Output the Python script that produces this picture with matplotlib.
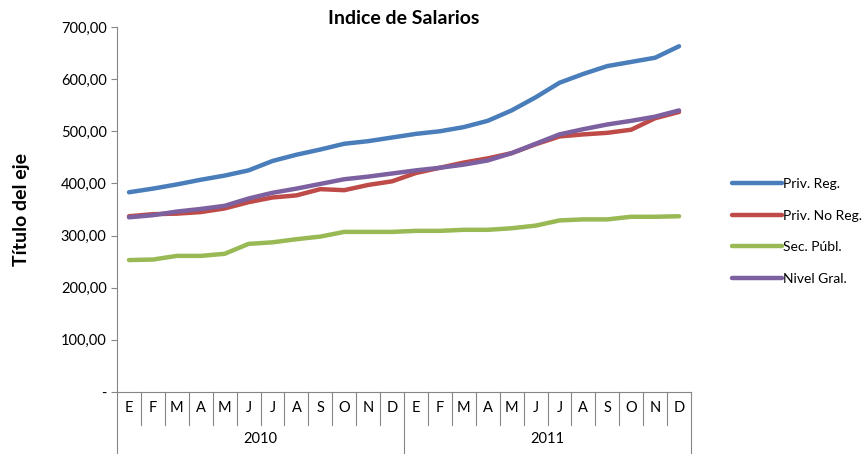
import matplotlib
matplotlib.use('Agg')
import matplotlib.pyplot as plt
from matplotlib.ticker import FuncFormatter, MultipleLocator
from matplotlib.transforms import blended_transform_factory
import numpy as np

plt.rcParams['font.family'] = ['Lato', 'DejaVu Sans']

# ── Data ──────────────────────────────────────────────────────────────────────
months = ['E', 'F', 'M', 'A', 'M', 'J', 'J', 'A', 'S', 'O', 'N', 'D']
years  = ['2010', '2011']

priv_reg    = [383, 390, 398, 407, 415, 425, 443, 455, 465, 476, 481, 488,
               495, 500, 508, 520, 540, 565, 593, 610, 625, 633, 641, 663]
priv_no_reg = [337, 341, 342, 345, 352, 364, 373, 377, 389, 387, 397, 404,
               420, 430, 440, 448, 458, 475, 490, 494, 497, 503, 525, 537]
sec_publ    = [253, 254, 261, 261, 265, 284, 287, 293, 298, 307, 307, 307,
               309, 309, 311, 311, 314, 319, 329, 331, 331, 336, 336, 337]
nivel_gral  = [335, 339, 346, 351, 357, 371, 382, 390, 399, 408, 413, 419,
               425, 430, 436, 444, 458, 476, 494, 504, 513, 520, 528, 540]

series = [('Priv. Reg.', priv_reg, '#4A7EBB'),
          ('Priv. No Reg.', priv_no_reg, '#BE4B48'),
          ('Sec. Públ.', sec_publ, '#98B954'),
          ('Nivel Gral.', nivel_gral, '#7D60A0')]

# ── Plot ──────────────────────────────────────────────────────────────────────
fig = plt.figure(figsize=(8.67, 4.54), dpi=100)
ax = fig.add_axes([0.135, 0.1366, 0.662, 0.804])

n = len(months) * len(years)
x = np.arange(n)
for label, vals, color in series:
    ax.plot(x, vals, color=color, lw=3.2, label=label, solid_capstyle='round')

ax.set_xlim(-0.5, n - 0.5)
ax.set_ylim(0, 700)
ax.yaxis.set_major_locator(MultipleLocator(100))
ax.yaxis.set_major_formatter(FuncFormatter(
    lambda v, _: '-' if v == 0 else f'{v:,.2f}'.replace(',', 'X').replace('.', ',').replace('X', '.')))
ax.tick_params(axis='y', labelsize=10.5, length=4, color='#868686', direction='out')
ax.set_xticks([])
for s in ['top', 'right']:
    ax.spines[s].set_visible(False)
for s in ['left', 'bottom']:
    ax.spines[s].set_color('#868686')

ax.set_title('Indice de Salarios', fontsize=14, fontweight='bold', pad=-3)
ax.set_ylabel('Título del eje', fontsize=14, fontweight='bold', labelpad=22)

# multi-level category axis
tr = blended_transform_factory(ax.transData, ax.transAxes)
row1 = -33 / 365   # month row bottom, in axes fraction
row2 = -62 / 365   # year row bottom
for i in range(n + 1):
    xb = i - 0.5
    ybot = row2 if i % len(months) == 0 else row1
    ax.plot([xb, xb], [0, ybot], transform=tr, color='#868686', lw=0.8, clip_on=False)
for i in range(n):
    ax.text(i, row1 / 2, months[i % len(months)], transform=tr,
            ha='center', va='center', fontsize=10.5)
for j, yr in enumerate(years):
    xc = j * len(months) + (len(months) - 1) / 2
    ax.text(xc, (row1 + row2) / 2, yr, transform=tr, ha='center', va='center', fontsize=10.5)

fig.legend(loc='upper left', bbox_to_anchor=(0.83, 0.635), frameon=False,
           fontsize=10, handlelength=3.6, handletextpad=0.1, labelspacing=1.4)

fig.savefig('out.png', dpi=100)
